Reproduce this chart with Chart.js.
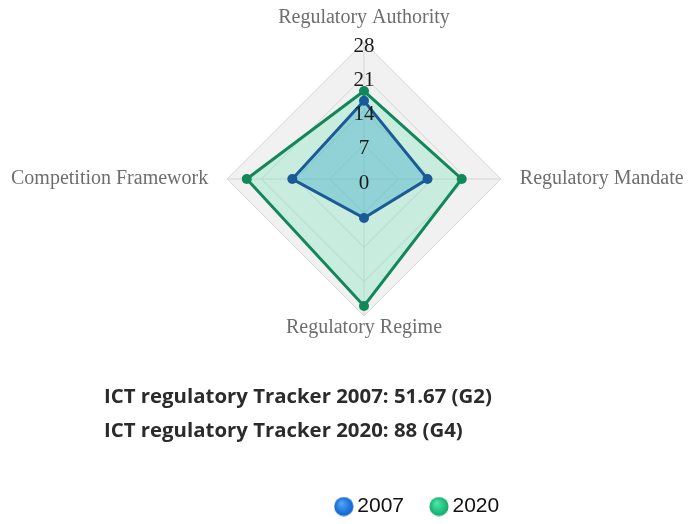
<!DOCTYPE html>
<html><head><meta charset="utf-8">
<script src="https://cdn.jsdelivr.net/npm/chart.js@4"></script>
<style>
html,body{margin:0;padding:0;background:#fff;overflow:hidden;}
#wrap{position:relative;width:689px;height:524px;overflow:hidden;}
#c{position:absolute;left:-1px;top:0;}
.note{position:absolute;left:104px;font-family:"Open Sans",sans-serif;font-weight:bold;font-size:20px;color:#2b2b2b;white-space:nowrap;line-height:23px;}
</style></head><body>
<div id="wrap"><canvas id="c" width="706" height="527"></canvas>
<div class="note" id="n1" style="top:384px"></div>
<div class="note" id="n2" style="top:418px"></div>
</div>
<script>
const categories = ['Regulatory Authority', 'Regulatory Mandate', 'Regulatory Regime', 'Competition Framework'];
const seriesNames = ['2007', '2020'];
const values2007 = [16, 13, 8, 14.67];
const values2020 = [18, 20, 26, 24];
const tickValues = [0, 7, 14, 21, 28];
const notes = ['ICT regulatory Tracker 2007: 51.67 (G2)', 'ICT regulatory Tracker 2020: 88 (G4)'];

// text block: fit the first line to the width it has in the reference
(function () {
  const n1 = document.getElementById('n1'), n2 = document.getElementById('n2');
  n1.textContent = notes[0];
  n2.textContent = notes[1];
  const m = document.createElement('canvas').getContext('2d');
  m.font = 'bold 20px "Open Sans"';
  const w = m.measureText(notes[0]).width;
  const size = Math.max(14, Math.min(24, 20 * 388 / w));
  n1.style.fontSize = size + 'px';
  n2.style.fontSize = size + 'px';
})();

const labelPad = [0, 7, -12, 7];
const legendShift = 68;

function dot(c1, c2) {
  const cv = document.createElement('canvas');
  cv.width = 20; cv.height = 20;
  const g = cv.getContext('2d');
  const grad = g.createRadialGradient(7.5, 6.5, 1, 10, 10, 10);
  grad.addColorStop(0, c1);
  grad.addColorStop(1, c2);
  g.fillStyle = grad;
  g.beginPath(); g.arc(10, 10, 9.6, 0, Math.PI * 2); g.fill();
  return cv;
}
const legendDots = [dot('#4da3f5', '#0b5fcf'), dot('#4fe3a6', '#0caa6c')];

const bgPoly = {
  id: 'bgPoly',
  beforeDraw(chart) {
    const s = chart.scales.r, ctx = chart.ctx;
    ctx.save();
    ctx.beginPath();
    categories.forEach((c, i) => {
      const p = s.getPointPositionForValue(i, s.max);
      if (i) ctx.lineTo(p.x, p.y); else ctx.moveTo(p.x, p.y);
    });
    ctx.closePath();
    ctx.fillStyle = '#f1f1f1';
    ctx.fill();
    ctx.restore();
  }
};
const tickText = {
  id: 'tickText',
  afterDatasetsDraw(chart) {
    const s = chart.scales.r, ctx = chart.ctx;
    ctx.save();
    ctx.font = '21px "Liberation Serif"';
    ctx.fillStyle = '#1a1a1a';
    ctx.textAlign = 'center';
    ctx.textBaseline = 'middle';
    s.ticks.forEach(t => {
      const d = s.getDistanceFromCenterForValue(t.value);
      ctx.fillText(String(t.value), s.xCenter, s.yCenter - d + 4);
    });
    ctx.restore();
  }
};
const moveLegend = {
  id: 'moveLegend',
  afterLayout(chart) {
    chart.legend.left += legendShift;
    chart.legend.right += legendShift;
  }
};

new Chart(document.getElementById('c'), {
  type: 'radar',
  data: {
    labels: categories,
    datasets: [
      { label: seriesNames[0], data: values2007, borderColor: '#1a5a96', backgroundColor: 'rgba(76,179,204,0.45)',
        borderWidth: 3, pointRadius: 5, pointBackgroundColor: '#1a5a96', pointBorderColor: '#1a5a96', pointBorderWidth: 0, fill: true, tension: 0 },
      { label: seriesNames[1], data: values2020, borderColor: '#11875a', backgroundColor: 'rgba(80,225,165,0.25)',
        borderWidth: 3, pointRadius: 5, pointBackgroundColor: '#11875a', pointBorderColor: '#11875a', pointBorderWidth: 0, fill: true, tension: 0 }
    ]
  },
  options: {
    responsive: false,
    animation: false,
    devicePixelRatio: 1,
    layout: { padding: 0 },
    scales: {
      r: {
        min: 0, max: 28,
        afterBuildTicks: s => { s.ticks = tickValues.map(v => ({ value: v })); },
        ticks: { display: true, color: 'rgba(0,0,0,0)', showLabelBackdrop: false, backdropPadding: 2,
          font: { family: 'Liberation Serif', size: 20 } },
        grid: { color: '#d6d6d6', lineWidth: 1 },
        angleLines: { color: '#d6d6d6', lineWidth: 1 },
        pointLabels: { font: { family: 'Liberation Serif', size: 20 }, color: '#6e6e6e',
          padding: ctx => labelPad[ctx.index] }
      }
    },
    plugins: {
      title: { display: true, text: '', position: 'bottom', weight: 500, font: { size: 10 }, padding: { top: 106, bottom: 0 } },
      legend: {
        position: 'bottom',
        labels: {
          usePointStyle: true, boxWidth: 6, boxHeight: 21, padding: 32,
          font: { family: 'Liberation Sans', size: 21 }, color: '#111',
          generateLabels(chart) {
            const items = Chart.defaults.plugins.legend.labels.generateLabels(chart);
            items.forEach((it, i) => { it.pointStyle = legendDots[i]; });
            return items;
          }
        }
      },
      tooltip: { enabled: false }
    }
  },
  plugins: [bgPoly, tickText, moveLegend]
});
</script>
</body></html>
